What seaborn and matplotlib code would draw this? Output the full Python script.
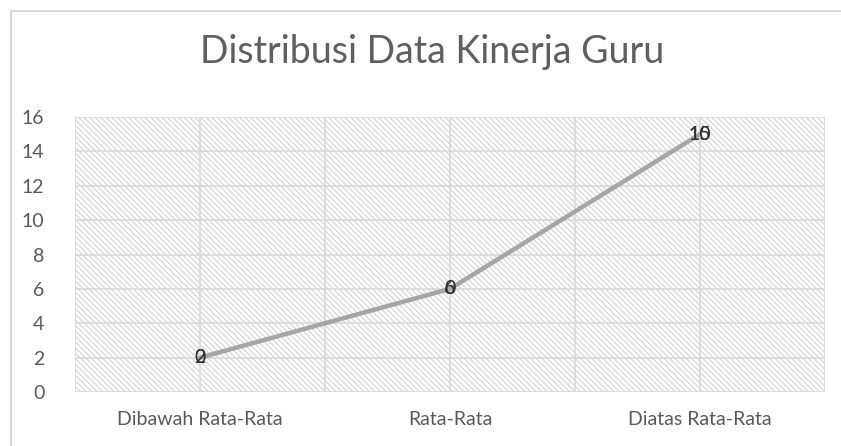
import matplotlib
matplotlib.use("Agg")
import matplotlib.pyplot as plt
import seaborn as sns
import pandas as pd
import numpy as np
from matplotlib.patches import Rectangle
from matplotlib.lines import Line2D

categories = ["Dibawah Rata-Rata", "Rata-Rata", "Diatas Rata-Rata"]
values = [2, 6, 15]
labels_a = ["2", "6", "15"]
labels_b = ["0", "0", "10"]
yticks = [0, 2, 4, 6, 8, 10, 12, 14, 16]
title = "Distribusi Data Kinerja Guru"

sns.set_theme(style="white")
plt.rcParams['font.family'] = ['Lato', 'DejaVu Sans']
plt.rcParams['hatch.linewidth'] = 1.0
plt.rcParams['hatch.color'] = '#dadada'

df = pd.DataFrame({"cat": categories, "val": values})
df["x"] = np.arange(len(categories))

fig = plt.figure(figsize=(8.41, 4.46), dpi=100)
ax = fig.add_axes([75/841, 1-392/446, 750/841, 275/446])

# outer chart border (top and left only visible)
bx, by = 11/841, 1-11/446
fig.add_artist(Line2D([bx, bx], [0, by], transform=fig.transFigure, color='#d9d9d9', lw=1.5))
fig.add_artist(Line2D([bx, 1], [by, by], transform=fig.transFigure, color='#d9d9d9', lw=1.5))

ax.set_xlim(-0.5, 2.5)
ax.set_ylim(0, 16)
ax.add_patch(Rectangle((0, 0), 1, 1, transform=ax.transAxes, facecolor='white',
                       hatch='\\\\\\\\\\\\', edgecolor='#dadada', linewidth=0, zorder=0))

for y in yticks:
    ax.axhline(y, color='#d9d9d9', lw=1.2, zorder=1)
for xg in np.arange(-0.5, 2.51, 0.5):
    ax.axvline(xg, color='#d9d9d9', lw=1.2, zorder=1)

sns.lineplot(data=df, x="x", y="val", ax=ax, color='#a5a5a5', linewidth=3.2,
             solid_capstyle='round', zorder=3, legend=False)

for xi, v, la, lb in zip(df["x"], values, labels_a, labels_b):
    ax.text(xi, v, lb, ha='center', va='center', fontsize=14, color='#303030', zorder=4)
    ax.text(xi, v, la, ha='center', va='center', fontsize=14, color='#303030', zorder=4)

ax.set_xticks(df["x"])
ax.set_xticklabels(categories)
ax.set_yticks(yticks)
ax.set_yticklabels([str(t) for t in yticks])
ax.tick_params(axis='both', length=0, labelsize=14, colors='#595959')
ax.tick_params(axis='y', pad=22)
ax.tick_params(axis='x', pad=14)
for lab in ax.get_yticklabels():
    lab.set_horizontalalignment('right')
ax.set_xlabel("")
ax.set_ylabel("")
for s in ax.spines.values():
    s.set_visible(False)

fig.text(432/841, 1-52/446, title, ha='center', va='center', fontsize=27,
         color='#5f5f5f', fontweight='normal')

fig.savefig("out.png", dpi=100)
